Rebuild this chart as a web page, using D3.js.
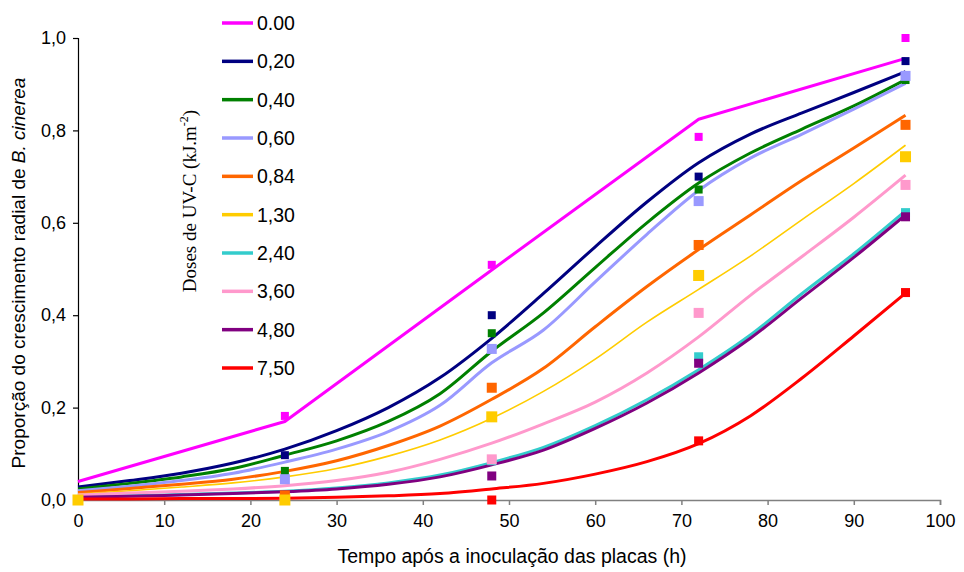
<!DOCTYPE html>
<html>
<head>
<meta charset="utf-8">
<script src="https://cdn.jsdelivr.net/npm/d3@7"></script>
<style>
  html, body { margin: 0; padding: 0; background: #fff; }
  svg { display: block; }
  text { font-family: "Liberation Sans", Arial, sans-serif; fill: #000; }
</style>
</head>
<body>
<svg id="chart" width="964" height="572"></svg>
<script>
// Dose labels (kJ.m-2) in legend order
const doses = ["0.00", "0,20", "0,40", "0,60", "0,84", "1,30", "2,40", "3,60", "4,80", "7,50"];
const colors = ["#FF00FF", "#000080", "#008000", "#9999FF", "#FF6600", "#FFCC00", "#33CCCC", "#FF99CC", "#800080", "#FF0000"];

// Observation times (h) for the measured radial growth
const obsHours = [0, 24, 48, 72, 96];
const obs000 = [0.000, 0.182, 0.509, 0.786, 1.000];
const obs020 = [0.000, 0.097, 0.400, 0.700, 0.950];
const obs040 = [0.000, 0.063, 0.361, 0.672, 0.909];
const obs060 = [0.000, 0.045, 0.327, 0.647, 0.918];
const obs084 = [0.000, 0.010, 0.243, 0.552, 0.812];
const obs130 = [0.000, 0.000, 0.180, 0.486, 0.743];
const obs240 = [0.000, 0.000, 0.085, 0.310, 0.622];
const obs360 = [0.000, 0.000, 0.088, 0.405, 0.682];
const obs480 = [0.000, 0.000, 0.052, 0.296, 0.613];
const obs750 = [0.000, 0.000, 0.000, 0.128, 0.449];

// Model curve for the untreated control, given at the observation times
const fitHours000 = [0, 24, 48, 72, 96];
const fit000 = [0.040, 0.170, 0.498, 0.824, 0.956];

// Model curves for the irradiated doses, every 6 h
const fitHours = [0, 6, 12, 18, 24, 30, 36, 42, 48, 54, 60, 66, 72, 78, 84, 90, 96];
const fit020 = [0.028, 0.042, 0.058, 0.080, 0.110, 0.150, 0.200, 0.265, 0.350, 0.447, 0.548, 0.645, 0.730, 0.792, 0.838, 0.882, 0.927];
const fit040 = [0.024, 0.036, 0.050, 0.068, 0.097, 0.128, 0.170, 0.230, 0.322, 0.405, 0.503, 0.600, 0.686, 0.751, 0.803, 0.853, 0.910];
const fit060 = [0.020, 0.030, 0.042, 0.058, 0.082, 0.110, 0.148, 0.205, 0.297, 0.368, 0.472, 0.575, 0.670, 0.740, 0.792, 0.846, 0.902];
const fit084 = [0.016, 0.025, 0.034, 0.045, 0.062, 0.085, 0.118, 0.160, 0.218, 0.285, 0.375, 0.462, 0.542, 0.617, 0.692, 0.762, 0.833];
const fit130 = [0.013, 0.020, 0.028, 0.037, 0.050, 0.068, 0.095, 0.130, 0.177, 0.235, 0.305, 0.385, 0.456, 0.528, 0.607, 0.685, 0.768];
const fit240 = [0.007, 0.009, 0.012, 0.015, 0.019, 0.026, 0.037, 0.054, 0.081, 0.114, 0.161, 0.217, 0.282, 0.357, 0.447, 0.533, 0.626];
const fit360 = [0.011, 0.015, 0.019, 0.024, 0.031, 0.042, 0.060, 0.088, 0.123, 0.165, 0.212, 0.275, 0.353, 0.443, 0.527, 0.612, 0.703];
const fit480 = [0.006, 0.008, 0.011, 0.014, 0.018, 0.024, 0.034, 0.050, 0.076, 0.108, 0.155, 0.210, 0.275, 0.350, 0.438, 0.525, 0.617];
const fit750 = [0.002, 0.002, 0.003, 0.003, 0.004, 0.006, 0.009, 0.014, 0.024, 0.036, 0.056, 0.083, 0.122, 0.182, 0.264, 0.355, 0.448];

// Axis ticks
const xTicks = [0, 10, 20, 30, 40, 50, 60, 70, 80, 90, 100];
const yTicks = [0, 0.2, 0.4, 0.6, 0.8, 1.0];

const observed = [obs000, obs020, obs040, obs060, obs084, obs130, obs240, obs360, obs480, obs750];
const fitted = [fit000, fit020, fit040, fit060, fit084, fit130, fit240, fit360, fit480, fit750];
const fittedHours = [fitHours000, fitHours, fitHours, fitHours, fitHours, fitHours, fitHours, fitHours, fitHours, fitHours];

// Per-series drawing style
const lineWidths = [3, 3, 3, 3, 3, 1.6, 3, 3, 3, 3];
const markerSizes = [8, 8, 8, 10, 10, 11, 9, 10, 9, 9];

const series = doses.map((d, i) => ({
  dose: d,
  color: colors[i],
  width: lineWidths[i],
  marker: markerSizes[i],
  curve: fittedHours[i].map((h, j) => ({ h, v: fitted[i][j] })),
  points: obsHours.map((h, j) => ({ h, v: observed[i][j] }))
}));

const svg = d3.select("#chart");
const plot = { left: 78, right: 940, top: 38, bottom: 500 };

const x = d3.scaleLinear().domain([0, 100]).range([plot.left, plot.right]);
const y = d3.scaleLinear().domain([0, 1]).range([plot.bottom, plot.top]);
const fmt = v => d3.format(".1f")(v).replace(".", ",");

// Axes
const xAxis = svg.append("g")
  .attr("transform", `translate(0,${plot.bottom})`)
  .call(d3.axisBottom(x).tickValues(xTicks).tickSize(5).tickPadding(9).tickFormat(d3.format("d")));
xAxis.select(".domain").attr("stroke", "#808080").attr("stroke-width", 1.5);
xAxis.selectAll(".tick line").attr("stroke", "#808080").attr("stroke-width", 1.5);
xAxis.selectAll(".tick text").attr("font-size", 18).attr("font-family", "Liberation Sans, Arial, sans-serif").attr("fill", "#000");

const yAxis = svg.append("g")
  .attr("transform", `translate(${plot.left},0)`)
  .call(d3.axisLeft(y).tickValues(yTicks).tickSize(5).tickPadding(7).tickFormat(fmt));
yAxis.select(".domain").attr("stroke", "#000").attr("stroke-width", 1.2);
yAxis.selectAll(".tick line").attr("stroke", "#000").attr("stroke-width", 1.2);
yAxis.selectAll(".tick text").attr("font-size", 18).attr("font-family", "Liberation Sans, Arial, sans-serif").attr("fill", "#000");

// Model curves
const line = d3.line().x(d => x(d.h)).y(d => y(d.v)).curve(d3.curveMonotoneX);
const lineStraight = d3.line().x(d => x(d.h)).y(d => y(d.v));
svg.append("g").selectAll("path")
  .data(series)
  .join("path")
  .attr("fill", "none")
  .attr("stroke", d => d.color)
  .attr("stroke-width", d => d.width)
  .attr("stroke-linejoin", "round")
  .attr("d", (d, i) => (i === 0 ? lineStraight : line)(d.curve));

// Observed values as squares; the 1,30 markers sit on top
const order = series.map((s, i) => i).filter(i => i !== 5).concat([5]);
const markers = svg.append("g");
order.forEach(i => {
  const s = series[i];
  markers.selectAll(null)
    .data(s.points)
    .join("rect")
    .attr("x", d => x(d.h) - s.marker / 2)
    .attr("y", d => y(d.v) - s.marker / 2)
    .attr("width", s.marker)
    .attr("height", s.marker)
    .attr("fill", s.color);
});

// Legend
const legend = svg.append("g");
const legY = d3.scaleLinear().domain([0, doses.length - 1]).range([23, 368]);
series.forEach((s, i) => {
  const g = legend.append("g").attr("transform", `translate(222,${legY(i)})`);
  g.append("line").attr("x1", 0).attr("x2", 31).attr("y1", 0).attr("y2", 0)
    .attr("stroke", s.color).attr("stroke-width", 3.5);
  g.append("text").attr("x", 35).attr("y", 0).attr("dy", "0.36em")
    .attr("font-size", 19.5).text(s.dose);
});

// Legend title
const lt = svg.append("text")
  .attr("transform", "translate(196,201) rotate(-90)")
  .attr("text-anchor", "middle")
  .style("font-family", "'Liberation Serif', 'Times New Roman', serif")
  .attr("font-size", 19);
lt.append("tspan").text("Doses de UV-C (kJ.m");
lt.append("tspan").attr("dy", -8).attr("font-size", 12).text("-2");
lt.append("tspan").attr("dy", 8).text(")");

// Axis titles
svg.append("text")
  .attr("x", 512)
  .attr("y", 563)
  .attr("text-anchor", "middle")
  .attr("font-size", 19.5)
  .text("Tempo após a inoculação das placas (h)");

const yt = svg.append("text")
  .attr("transform", "translate(25,273) rotate(-90)")
  .attr("text-anchor", "middle")
  .attr("font-size", 19);
yt.append("tspan").text("Proporção do crescimento radial de ");
yt.append("tspan").attr("font-style", "italic").text("B. cinerea");
</script>
</body>
</html>
